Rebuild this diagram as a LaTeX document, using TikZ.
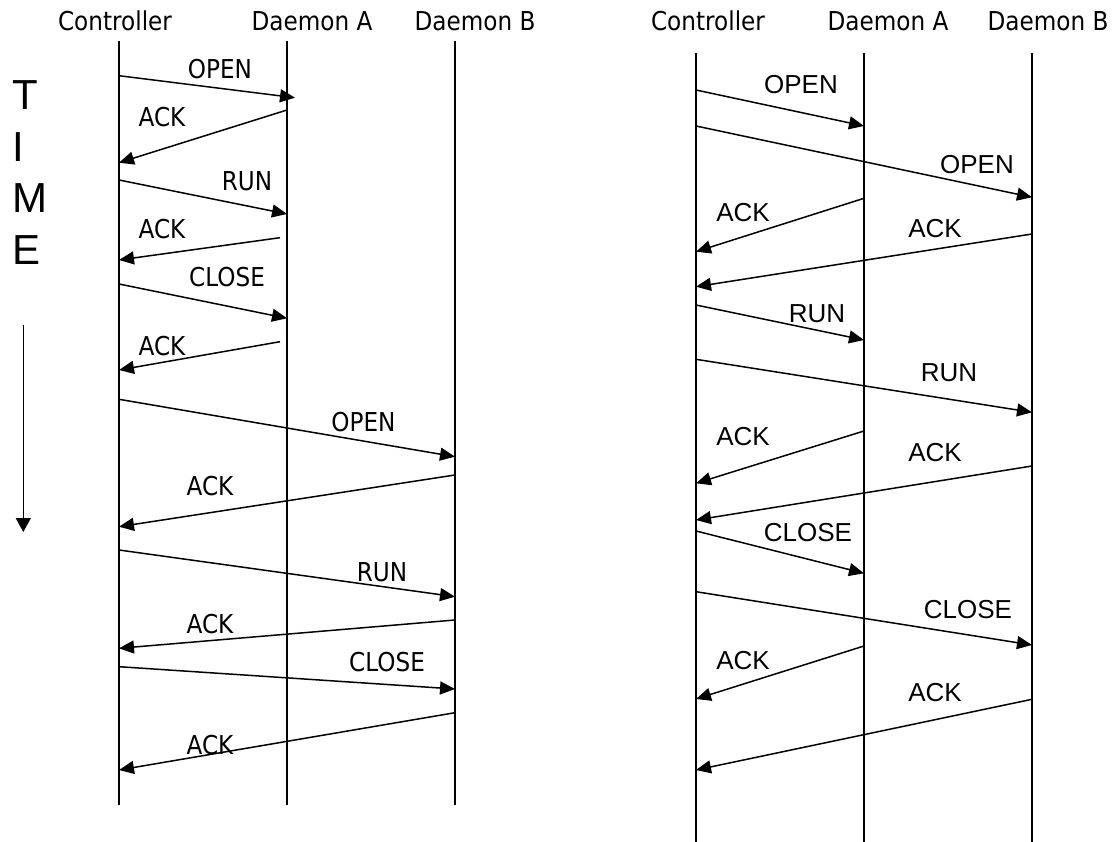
\documentclass[tikz,border=0pt]{standalone}
\usepackage{fontspec}
\setmainfont{Liberation Sans}
\newfontfamily\narrowsans[FakeStretch=0.89]{DejaVu Sans}
\usetikzlibrary{arrows.meta}

\begin{document}
\begin{tikzpicture}[x=1pt, y=-1pt,
        life/.style={line width=1.6pt},
        msg/.style={line width=1.5pt, -{Triangle[length=15pt,width=13pt]}},
        head/.style={inner sep=0pt, font=\narrowsans\fontsize{26}{30}\selectfont},
        lbl/.style={inner sep=0pt, font=\narrowsans\fontsize{26}{30}\selectfont},
        lblr/.style={inner sep=0pt, font=\fontsize{26}{30}\selectfont}]
        \useasboundingbox (0,0) rectangle (1112,842);

        % time axis
        \foreach \ch/\yy [count=\i] in {T/95, I/147, M/198, E/250}
            \node[anchor=west, inner sep=0pt, font=\fontsize{42}{46}\selectfont] (time\i) at (12,\yy) {\ch};
        \coordinate (t0) at (23.3,325);
        \coordinate (t1) at (23.3,532);
        \draw[line width=1.5pt, -{Triangle[length=14pt,width=15pt]}] (t0) -- (t1);

        % left: one daemon after the other
        \begin{scope}
            \node[head] (lctl) at (115,21) {Controller};
            \node[head] (lda)  at (312,21) {Daemon A};
            \node[head] (ldb)  at (475,21) {Daemon B};
            \draw[life] (119,41) -- (119,805);
            \draw[life] (287,41) -- (287,805);
            \draw[life] (455,41) -- (455,805);
            \foreach \xa/\ya/\xb/\yb/\lx/\ly/\txt [count=\i] in {
                119/75.7/295/97.7/220/69/OPEN,
                287/110/119/162.7/162/117.5/ACK,
                119/180/287/214/247/181/RUN,
                280/237.7/119/260/162/229/ACK,
                119/284/287/318.3/227/276.7/CLOSE,
                280/341.7/119/370/162/345.7/ACK,
                119/399.3/455/456.7/363.5/422/OPEN,
                455/475/119/526.7/210/485.8/ACK,
                119/550/455/596.7/382/572/RUN,
                455/620/119/648.3/210/623.7/ACK,
                119/666.7/455/689/387/661.7/CLOSE,
                455/712.7/119/770/210/745/ACK}
            {
                \draw[msg] (\xa,\ya) -- (\xb,\yb);
                \node[lbl] (lm\i) at (\lx,\ly) {\txt};
            }
        \end{scope}

        % right: both daemons interleaved
        \begin{scope}
            \node[head] (rctl) at (708,21) {Controller};
            \node[head] (rda)  at (888,21) {Daemon A};
            \node[head] (rdb)  at (1048,21) {Daemon B};
            \draw[life] (696,53.3) -- (696,842);
            \draw[life] (864,53.3) -- (864,842);
            \draw[life] (1032,53.3) -- (1032,842);
            \foreach \xa/\ya/\xb/\yb/\lx/\ly/\txt [count=\i] in {
                696/90/864/126/801/85/OPEN,
                696/126/1032/197.3/977/165/OPEN,
                864/198.3/696/251.7/743/213/ACK,
                1032/234/696/286.7/935/229/ACK,
                696/305/864/340/817/313.7/RUN,
                696/359.3/1032/412.3/949/373/RUN,
                864/431/696/483.3/743/436.7/ACK,
                1032/466/696/520/935/452.7/ACK,
                696/531/864/573.3/808/532.7/CLOSE,
                696/591.7/1032/645/968/610/CLOSE,
                864/646/696/699/743/660.7/ACK,
                1032/699.3/696/770/935/692.7/ACK}
            {
                \draw[msg] (\xa,\ya) -- (\xb,\yb);
                \node[lblr] (rm\i) at (\lx,\ly) {\txt};
            }
        \end{scope}
    \end{tikzpicture}
\end{document}
